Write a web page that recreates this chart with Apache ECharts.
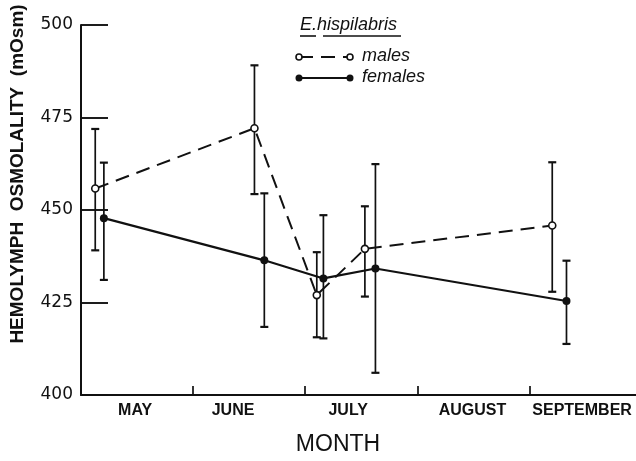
<!DOCTYPE html>
<html>
<head>
<meta charset="utf-8">
<script src="https://cdn.jsdelivr.net/npm/echarts@6/dist/echarts.min.js"></script>
<style>
  html, body { margin: 0; padding: 0; background: #fff; }
  #chart { width: 636px; height: 461px; }
</style>
</head>
<body>
<div id="chart"></div>
<script>
// Sampling dates, in months since 1 May (0 = start of May)
const maleMonth   = [0.127, 1.547, 2.103, 2.532, 4.203];
const femaleMonth = [0.204, 1.635, 2.162, 2.626, 4.330];

// Mean hemolymph osmolality (mOsm) and error-bar limits
const maleMean   = [455.8, 472.1, 427.0, 439.5, 445.8];
const maleHigh   = [471.9, 489.1, 438.6, 451.0, 462.9];
const maleLow    = [439.1, 454.3, 415.6, 426.6, 427.9];
const femaleMean = [447.8, 436.4, 431.5, 434.2, 425.4];
const femaleHigh = [462.8, 454.5, 448.6, 462.4, 436.3];
const femaleLow  = [431.1, 418.4, 415.3, 406.0, 413.8];

// Month names and where they sit on the month scale
const monthNames = ['MAY', 'JUNE', 'JULY', 'AUGUST', 'SEPTEMBER'];
const monthLabelPos = [0.483, 1.356, 2.383, 3.492, 4.469];
const monthBoundaries = [1, 2, 3, 4];
const yTicks = [400, 425, 450, 475, 500];

const INK = '#111';

function pairs(xs, ys) { return xs.map((x, i) => [x, ys[i]]); }
function bars(xs, lo, hi) { return xs.map((x, i) => [x, lo[i], hi[i]]); }

function errorBar(params, api) {
  const x = api.value(0);
  const lo = api.coord([x, api.value(1)]);
  const hi = api.coord([x, api.value(2)]);
  const cap = 4;
  const style = { stroke: INK, lineWidth: 1.7 };
  return {
    type: 'group',
    children: [
      { type: 'line', shape: { x1: lo[0], y1: lo[1], x2: hi[0], y2: hi[1] }, style },
      { type: 'line', shape: { x1: hi[0] - cap, y1: hi[1], x2: hi[0] + cap, y2: hi[1] }, style: { stroke: INK, lineWidth: 2.2 } },
      { type: 'line', shape: { x1: lo[0] - cap, y1: lo[1], x2: lo[0] + cap, y2: lo[1] }, style: { stroke: INK, lineWidth: 2.2 } }
    ]
  };
}

const chart = echarts.init(document.getElementById('chart'), null, { renderer: 'canvas' });

// Legend key drawn as small line samples with markers at both ends
const keyX1 = 299, keyX2 = 350;
const keyFont = 'italic 18px "Liberation Sans"';
const legendGraphics = [
  { type: 'text', left: 300, top: 16, style: { text: 'E.hispilabris', font: keyFont, fill: INK } },
  { type: 'line', shape: { x1: 300, y1: 36, x2: 316, y2: 36 }, style: { stroke: INK, lineWidth: 1.6 } },
  { type: 'line', shape: { x1: 323, y1: 36, x2: 401, y2: 36 }, style: { stroke: INK, lineWidth: 1.6 } },
  { type: 'line', shape: { x1: keyX1, y1: 57, x2: keyX2, y2: 57 }, style: { stroke: INK, lineWidth: 2, lineDash: [14, 8] } },
  { type: 'circle', shape: { cx: keyX1, cy: 57, r: 3 }, style: { fill: '#fff', stroke: INK, lineWidth: 1.6 }, z: 10 },
  { type: 'circle', shape: { cx: keyX2, cy: 57, r: 3 }, style: { fill: '#fff', stroke: INK, lineWidth: 1.6 }, z: 10 },
  { type: 'text', left: 362, top: 47, style: { text: 'males', font: keyFont, fill: INK } },
  { type: 'line', shape: { x1: keyX1, y1: 78, x2: keyX2, y2: 78 }, style: { stroke: INK, lineWidth: 2.2 } },
  { type: 'circle', shape: { cx: keyX1, cy: 78, r: 3.5 }, style: { fill: INK }, z: 10 },
  { type: 'circle', shape: { cx: keyX2, cy: 78, r: 3.5 }, style: { fill: INK }, z: 10 },
  { type: 'text', left: 362, top: 68, style: { text: 'females', font: keyFont, fill: INK } }
];

chart.setOption({
  animation: false,
  backgroundColor: '#fff',
  grid: { left: 78, right: 0, top: 25, bottom: 63, containLabel: false },
  xAxis: {
    type: 'value',
    min: 0,
    max: 4.95,
    splitLine: { show: false },
    axisLine: { show: true, onZero: false, lineStyle: { color: INK, width: 2 } },
    axisTick: { show: true, inside: true, length: 9, customValues: monthBoundaries, lineStyle: { color: INK, width: 1.7 } },
    axisLabel: {
      show: true,
      customValues: monthLabelPos,
      margin: 8,
      color: INK,
      fontFamily: 'Liberation Sans',
      fontWeight: 'bold',
      fontSize: 16,
      formatter: function (v) {
        let best = 0;
        monthLabelPos.forEach((p, i) => { if (Math.abs(p - v) < Math.abs(monthLabelPos[best] - v)) best = i; });
        return monthNames[best];
      }
    },
    name: 'MONTH',
    nameLocation: 'middle',
    nameGap: 38,
    nameTextStyle: { color: INK, fontFamily: 'Liberation Sans', fontSize: 23, padding: [0, 41, 0, 0] }
  },
  yAxis: {
    type: 'value',
    min: 400,
    max: 500,
    interval: 25,
    splitLine: { show: false },
    axisLine: { show: true, lineStyle: { color: INK, width: 2 } },
    axisTick: { show: true, inside: true, length: 27, customValues: yTicks, lineStyle: { color: INK, width: 1.9 } },
    axisLabel: { color: INK, fontFamily: 'DejaVu Sans', fontSize: 17, margin: 8 },
    name: 'HEMOLYMPH  OSMOLALITY  (mOsm)',
    nameLocation: 'middle',
    nameGap: 54,
    nameRotate: 90,
    nameTextStyle: { color: INK, fontFamily: 'Liberation Sans', fontWeight: 'bold', fontSize: 19, padding: [0, 0, 0, 72] }
  },
  graphic: legendGraphics,
  series: [
    {
      name: 'males',
      type: 'line',
      data: pairs(maleMonth, maleMean),
      symbol: 'circle',
      symbolSize: 7,
      itemStyle: { color: '#fff', borderColor: INK, borderWidth: 1.6 },
      lineStyle: { color: INK, width: 2, type: [14, 8] },
      z: 4
    },
    {
      name: 'females',
      type: 'line',
      data: pairs(femaleMonth, femaleMean),
      symbol: 'circle',
      symbolSize: 8,
      itemStyle: { color: INK, borderColor: INK, borderWidth: 0 },
      lineStyle: { color: INK, width: 2.2 },
      z: 4
    },
    {
      name: 'males error',
      type: 'custom',
      renderItem: errorBar,
      data: bars(maleMonth, maleLow, maleHigh),
      encode: { x: 0, y: [1, 2] },
      z: 3
    },
    {
      name: 'females error',
      type: 'custom',
      renderItem: errorBar,
      data: bars(femaleMonth, femaleLow, femaleHigh),
      encode: { x: 0, y: [1, 2] },
      z: 3
    }
  ]
});
</script>
</body>
</html>
